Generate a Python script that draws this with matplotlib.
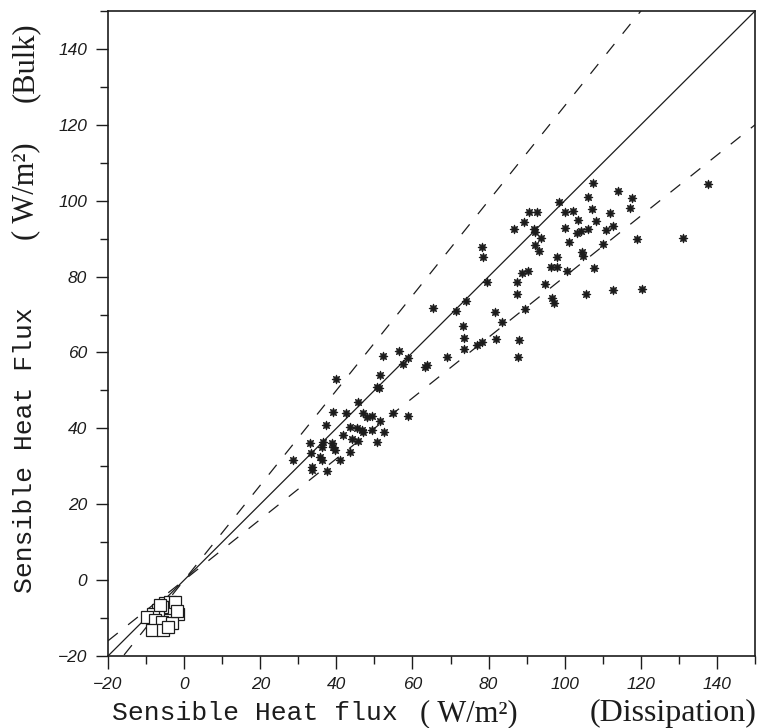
import matplotlib
matplotlib.use("Agg")
import matplotlib.pyplot as plt
from matplotlib.ticker import MultipleLocator

# Dissipation (x) vs bulk (y) sensible heat flux, W/m2
# positive fluxes (star symbols)
star_x = [107.5, 113.9, 117.7, 137.6, 106.2, 98.6, 107.2, 117.2, 90.7, 92.8,
          100.2, 102.1, 111.9, 89.4, 103.6, 108.2, 112.8, 86.7, 91.9, 92.2,
          100.1, 103.1, 104.2, 106.1, 110.8, 93.8, 119.1, 131.2, 101.2, 110.0,
          78.3, 92.2, 93.3, 78.4, 104.6, 104.9, 97.9, 96.3, 97.9, 107.7,
          88.7, 90.4, 100.7, 79.5, 87.4, 94.8, 105.6, 112.8, 120.2, 87.4,
          96.7, 97.2, 74.1, 81.7, 89.6, 83.4, 73.2, 73.5, 81.9, 88.1,
          76.9, 78.2, 73.5, 87.6, 65.3, 71.4, 69.0, 63.7, 63.3, 56.5,
          52.2, 58.9, 57.4, 51.5, 39.9, 50.6, 51.3, 45.8, 39.2, 42.5,
          47.1, 48.1, 49.3, 55.0, 51.5, 58.9, 37.2, 43.6, 45.3, 46.7,
          47.1, 49.3, 52.5, 41.8, 44.0, 36.6, 38.8, 39.2, 39.6, 33.1,
          50.6, 45.7, 36.1, 43.6, 33.3, 35.7, 36.1, 41.0, 28.7, 33.5,
          33.7, 37.6]
star_y = [104.7, 102.6, 100.6, 104.4, 101.1, 99.7, 97.7, 98.2, 96.9, 97.0,
          97.0, 97.4, 96.7, 94.5, 94.9, 94.6, 93.3, 92.5, 92.5, 91.8,
          92.7, 91.6, 92.0, 92.5, 92.2, 90.1, 89.8, 90.2, 89.0, 88.6,
          87.8, 88.3, 86.8, 85.2, 86.6, 85.4, 85.2, 82.6, 82.4, 82.2,
          81.0, 81.4, 81.5, 78.6, 78.6, 78.1, 75.5, 76.5, 76.7, 75.3,
          74.3, 73.0, 73.6, 70.6, 71.4, 68.1, 67.0, 63.7, 63.5, 63.3,
          62.0, 62.8, 60.8, 58.7, 71.6, 70.9, 58.9, 56.7, 56.1, 60.5,
          59.1, 58.5, 56.9, 54.1, 52.9, 50.8, 50.6, 47.0, 44.4, 44.0,
          44.0, 43.1, 43.3, 44.1, 42.0, 43.3, 40.9, 40.4, 40.0, 39.6,
          39.0, 39.6, 39.1, 38.2, 37.1, 36.5, 36.1, 35.2, 34.3, 36.2,
          36.3, 36.7, 35.2, 33.8, 33.4, 32.5, 31.6, 31.6, 31.6, 29.9,
          29.0, 28.8]

# negative fluxes (open squares)
sq_x = [-5.0, -3.7, -3.3, -4.6, -5.9, -1.5, -6.8, -8.1, -9.8, -7.7,
        -5.9, -3.3, -8.5, -5.5, -4.2, -6.3, -2.4, -1.8]
sq_y = [-6.1, -5.7, -7.0, -7.4, -7.0, -8.8, -7.9, -8.8, -9.8, -10.5,
        -11.0, -11.4, -13.2, -13.2, -12.3, -6.5, -5.7, -8.2]

# reference lines y = k*x
ratios = [1.0, 1.25, 0.8]
line_x = [-20, 150]

ink = "#1c1c1c"
plt.rcParams["lines.scale_dashes"] = False

fig = plt.figure(figsize=(7.67, 7.28), dpi=100)
ax = fig.add_axes([0.1408, 0.0989, 0.8436, 0.886])

for k in ratios:
    ls = "-" if k == 1.0 else (0, (9, 9.5))
    ax.plot(line_x, [k * v for v in line_x], color=ink, lw=0.9, linestyle=ls)

ax.plot(star_x, star_y, linestyle="none", marker=(8, 1, 0), markersize=6.5,
        color=ink, mec=ink, mew=0.6)
ax.plot(sq_x, sq_y, linestyle="none", marker="s", markersize=8,
        mfc="white", mec=ink, mew=0.9)

ax.set_xlim(-20, 150)
ax.set_ylim(-20, 150)
for a in (ax.xaxis, ax.yaxis):
    a.set_major_locator(MultipleLocator(20))
    a.set_minor_locator(MultipleLocator(10))
ax.set_xticks([-20, 0, 20, 40, 60, 80, 100, 120, 140])
ax.set_yticks([-20, 0, 20, 40, 60, 80, 100, 120, 140])
ax.tick_params(which="major", direction="out", length=9, width=1, color=ink,
               pad=6, labelsize=12.5, labelcolor=ink)
ax.tick_params(which="minor", direction="out", length=6, width=1, color=ink)
for lab in ax.get_xticklabels() + ax.get_yticklabels():
    lab.set_fontstyle("italic")
    lab.set_family("Liberation Sans")
for s in ax.spines.values():
    s.set_linewidth(1.2)
    s.set_color(ink)

# axis titles (letter-spaced typewriter look)
fig.text(0.146, 0.02, "Sensible Heat flux", family="Liberation Mono",
         fontsize=19, color=ink, va="center", ha="left")
fig.text(0.548, 0.02, "( W/m²)", family="Liberation Serif",
         fontsize=22, color=ink, va="center", ha="left")
fig.text(0.986, 0.02, "(Dissipation)", family="Liberation Serif",
         fontsize=23, color=ink, va="center", ha="right")

fig.text(0.033, 0.185, "Sensible Heat Flux", family="Liberation Mono",
         fontsize=19, color=ink, va="bottom", ha="center", rotation=90)
fig.text(0.033, 0.67, "( W/m²)", family="Liberation Serif",
         fontsize=22, color=ink, va="bottom", ha="center", rotation=90)
fig.text(0.033, 0.86, "(Bulk)", family="Liberation Serif",
         fontsize=22, color=ink, va="bottom", ha="center", rotation=90)

fig.savefig("out.png", dpi=100)
